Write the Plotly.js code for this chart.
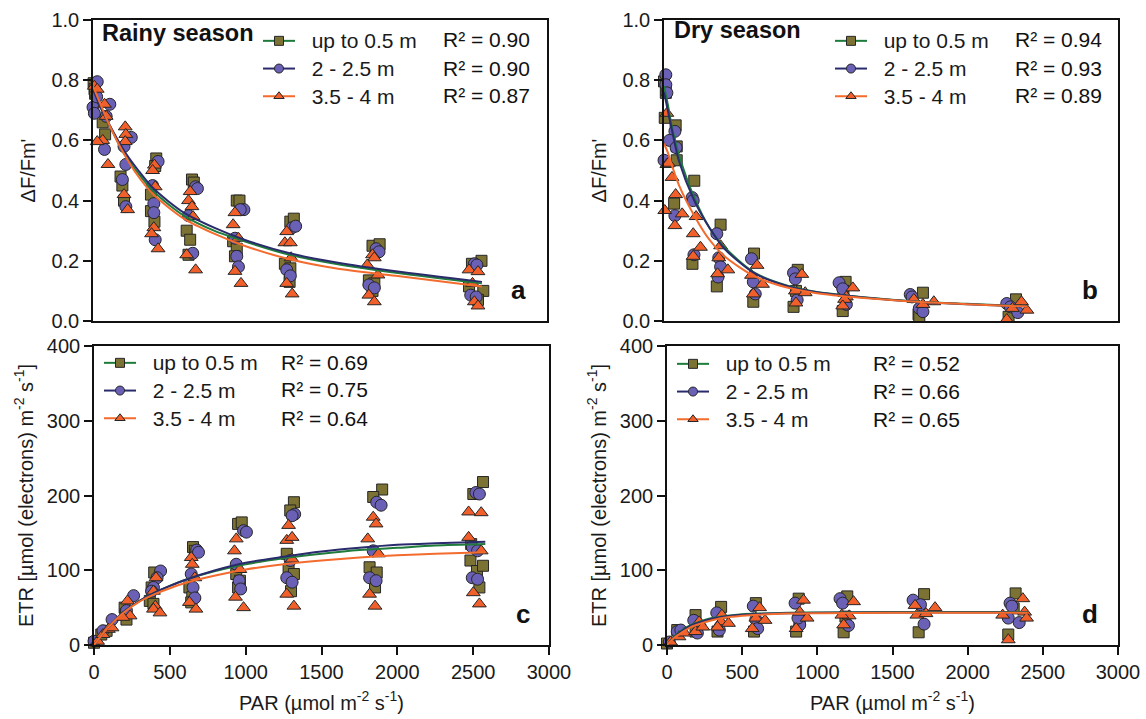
<!DOCTYPE html>
<html><head><meta charset="utf-8">
<script src="https://cdn.plot.ly/plotly-3.0.1.min.js"></script>
<style>html,body{margin:0;padding:0;background:#fff}#chart{width:1146px;height:719px}</style>
</head><body><div id="chart"></div>
<script>
// ---------- labels ----------
const seriesNames = ["up to 0.5 m", "2 - 2.5 m", "3.5 - 4 m"];
const r2A = ["R² = 0.90", "R² = 0.90", "R² = 0.87"];
const r2B = ["R² = 0.94", "R² = 0.93", "R² = 0.89"];
const r2C = ["R² = 0.69", "R² = 0.75", "R² = 0.64"];
const r2D = ["R² = 0.52", "R² = 0.66", "R² = 0.65"];
const panelLetters = ["a", "b", "c", "d"];
const seasonTitles = ["Rainy season", "Dry season"];
const yTicksYield = [0, 0.2, 0.4, 0.6, 0.8, 1.0];
const yTicksETR = [0, 100, 200, 300, 400];
const xTicksPAR = [0, 500, 1000, 1500, 2000, 2500, 3000];

// ---------- panel a : rainy season, ΔF/Fm' ----------
const aSqX = [4,10,14, 64,80, 182,194,205, 418,411,383,383,406, 654,666,619,642,631, 950,968,926,950,938, 1304,1327,1268,1304,1299, 1847,1894,1823,1859,1847, 2567,2504,2485,2579,2544];
const aSqY = [0.79,0.77,0.755, 0.66,0.62, 0.48,0.45,0.40, 0.54,0.515,0.42,0.365,0.33, 0.47,0.46,0.30,0.27,0.22, 0.40,0.40,0.265,0.24,0.215, 0.33,0.34,0.19,0.175,0.13, 0.25,0.255,0.135,0.125,0.10, 0.20,0.19,0.115,0.10,0.07];
const aCiX = [28,0,9,24, 111,87,76, 253,205,217,194,217, 430,394,402,402,411, 678,690,631,659, 997,973,938,950,961, 1316,1339,1280,1304, 1871,1890,1823,1859, 2520,2537,2496,2532];
const aCiY = [0.795,0.71,0.69,0.745, 0.72,0.68,0.57, 0.61,0.58,0.52,0.47,0.38, 0.53,0.45,0.39,0.36,0.27, 0.446,0.44,0.35,0.225, 0.37,0.37,0.275,0.215,0.18, 0.31,0.315,0.17,0.15, 0.24,0.23,0.12,0.11, 0.19,0.186,0.086,0.08];
const aTrX = [9,28, 76,87,64,28,99, 213,217,213,205,229, 406,394,411,402,387,430, 642,631,654,661,619,678, 938,926,961,938,978, 1280,1268,1304,1309,1280,1316, 1847,1859,1812,1883,1823,1859, 2485,2544,2508,2520,2544];
const aTrY = [0.78,0.77, 0.72,0.68,0.60,0.596,0.52, 0.645,0.62,0.596,0.42,0.37, 0.518,0.50,0.446,0.31,0.29,0.24, 0.43,0.40,0.38,0.347,0.22,0.17, 0.36,0.32,0.275,0.165,0.125, 0.297,0.26,0.26,0.21,0.125,0.09, 0.22,0.21,0.186,0.153,0.086,0.064, 0.17,0.164,0.125,0.064,0.05];
const aFitX = [0,50,100,200,300,400,600,800,1000,1300,1600,2000,2570];
const aFitSq = [0.78,0.71,0.66,0.56,0.49,0.43,0.35,0.30,0.265,0.22,0.19,0.16,0.125];
const aFitCi = [0.77,0.71,0.66,0.57,0.50,0.44,0.36,0.31,0.27,0.225,0.195,0.165,0.13];
const aFitTr = [0.78,0.72,0.66,0.56,0.48,0.42,0.34,0.29,0.25,0.205,0.175,0.15,0.115];

// ---------- panel b : dry season, ΔF/Fm' ----------
const bSqX = [0,12,5, 77,84,84,67, 200,188, 374,349, 595,590, 884,872,856, 1200,1186,1181, 1711,1682,1687, 2326,2277];
const bSqY = [0.796,0.758,0.675, 0.65,0.58,0.534,0.39, 0.466,0.19, 0.32,0.115, 0.224,0.064, 0.17,0.10,0.047, 0.13,0.10,0.033, 0.094,0.022,0.014, 0.072,0.014];
const bCiX = [12,12,19,0, 72,36,80,72, 186,193,198, 349,362,374,357, 578,590,603, 856,868,880, 1157,1181,1205, 1627,1639,1687,1711, 2265,2289,2338];
const bCiY = [0.818,0.785,0.758,0.534, 0.63,0.60,0.576,0.35, 0.41,0.40,0.22, 0.29,0.21,0.18,0.146, 0.207,0.13,0.09, 0.16,0.14,0.07, 0.127,0.107,0.055, 0.088,0.08,0.042,0.031, 0.058,0.047,0.028];
const bTrX = [19,19,5, 29,53,77,120,72, 212,193,241,193, 374,362,354,422, 615,578,651,590, 911,868,933,872, 1248,1205,1193,1181, 1651,1783,1711, 2362,2302,2398,2265];
const bTrY = [0.69,0.52,0.367, 0.524,0.477,0.42,0.356,0.317, 0.347,0.29,0.245,0.215, 0.25,0.21,0.157,0.17, 0.185,0.152,0.122,0.09, 0.155,0.10,0.094,0.06, 0.11,0.08,0.072,0.05, 0.072,0.064,0.055, 0.064,0.042,0.036,0.005];
const bFitX = [0,25,50,100,200,300,400,600,800,1000,1300,1700,2000,2400];
const bFitSq = [0.78,0.72,0.65,0.55,0.41,0.31,0.245,0.16,0.12,0.097,0.08,0.064,0.057,0.049];
const bFitCi = [0.76,0.70,0.64,0.53,0.40,0.31,0.24,0.158,0.118,0.096,0.079,0.063,0.056,0.048];
const bFitTr = [0.59,0.56,0.52,0.45,0.35,0.27,0.215,0.148,0.113,0.093,0.077,0.063,0.056,0.048];

// ---------- panel c : rainy season, ETR ----------
const cSqX = [0,48,83, 202,207,214, 397,380,368,392, 653,665,629,648,641, 950,974,938,962,950, 1318,1294,1271,1283,1318,1299, 1900,1841,1817,1864,1853, 2565,2501,2487,2482,2525,2565,2541];
const cSqY = [3,14,19, 50,41,34, 97,77,59,55, 131,126,77,64,57, 162,164,95,86,77, 191,180,122,101,95,72, 208,198,104,97,77, 218,202,135,113,99,106,77];
const cCiX = [0,59,119, 261,214, 439,416,392,380, 677,689,641,653,665, 986,1005,938,957,967, 1323,1306,1294,1271,1306, 1864,1893,1841,1817,1860, 2518,2541,2494,2529,2494,2529];
const cCiY = [5,19,34, 66,46, 99,90,77,72, 127,124,95,77,63, 153,151,108,86,75, 175,173,113,90,84, 191,187,126,90,86, 204,202,131,126,90,88];
const cTrX = [24,59,95,119, 221,238,190, 409,392,404,392,435, 641,648,665,629,672, 938,926,962,933,986, 1283,1271,1306,1306,1271,1318, 1841,1860,1805,1876,1817,1853, 2470,2553,2470,2553,2501,2541];
const cTrY = [5,14,21,23, 59,39,37, 90,72,52,48,43, 117,108,90,57,48, 142,126,101,64,50, 160,140,144,115,68,52, 171,162,142,122,68,52, 178,177,144,126,70,55];
const cFitX = [0,50,100,200,300,400,500,600,800,1000,1250,1500,1750,2000,2250,2580];
const cFitSq = [0,13,25,45,59,70,79,87,99,108,116,122,127,130,133,135];
const cFitCi = [0,13,25,45,59,70,79,87,100,110,118,125,130,134,136,138];
const cFitTr = [0,13,25,44,58,68,76,83,93,101,108,113,117,120,122,124];

// ---------- panel d : dry season, ETR ----------
const dSqX = [0,68, 190,190, 360,336, 591,579, 876,859,883, 1199,1175,1187, 1710,1674, 2319,2270,2306];
const dSqY = [2,20, 40,18, 51,18, 56,18, 62,18,33, 65,17,38, 68,17, 69,14,49];
const dCiX = [15,68,92, 178,202, 331,348, 574,591,603, 852,883,871, 1151,1168,1207, 1637,1686,1710, 2282,2294,2270,2343];
const dCiY = [4,18,20, 33,16, 43,20, 52,34,22, 56,27,36, 62,56,26, 60,54,28, 56,52,36,30];
const dTrX = [24,80,117, 214,190,238, 365,360,336,409, 616,591,567,652, 908,883,859,932, 1241,1212,1175,1163, 1650,1662,1723,1783, 2367,2379,2392,2270,2233];
const dTrY = [4,11,16, 31,18,24, 40,31,24,29, 50,36,22,33, 60,44,22,36, 58,39,27,40, 53,40,42,50, 62,44,36,7,40];
const dFitX = [0,50,100,150,200,300,400,500,600,800,1000,1500,2000,2400];
const dFitSq = [0,12,20,26,30,36,39,41,42,43,43.5,44,44,44];
const dFitCi = [0,11,19,25,29,35,38.5,40.5,41.5,42.5,43,43.5,43.5,43.5];
const dFitTr = [0,10,17,23,27,33,37,39,40.5,42,42.5,43,43,43];

// ---------- styles ----------
const FONT = "Arial, 'Liberation Sans', Helvetica, sans-serif";
const fills = ["#7c7233", "#6a61b6", "#f15f2a"];
const lineCols = ["#1f7b3b", "#2a2b6c", "#f36b2d"];
const symbols = ["square", "circle", "triangle-up"];
const sizes = [11, 12, 12];
const W = 1146, H = 719;
const px = v => v / W, py = v => 1 - v / H;

const panels = [
  {xa: "x",  ya: "y",  lg: "legend",  sets: [[aSqX,aSqY],[aCiX,aCiY],[aTrX,aTrY]], fitX: aFitX, fits: [aFitSq,aFitCi,aFitTr]},
  {xa: "x2", ya: "y2", lg: "legend2", sets: [[bSqX,bSqY],[bCiX,bCiY],[bTrX,bTrY]], fitX: bFitX, fits: [bFitSq,bFitCi,bFitTr]},
  {xa: "x3", ya: "y3", lg: "legend3", sets: [[cSqX,cSqY],[cCiX,cCiY],[cTrX,cTrY]], fitX: cFitX, fits: [cFitSq,cFitCi,cFitTr]},
  {xa: "x4", ya: "y4", lg: "legend4", sets: [[dSqX,dSqY],[dCiX,dCiY],[dTrX,dTrY]], fitX: dFitX, fits: [dFitSq,dFitCi,dFitTr]}
];

const traces = [];
panels.forEach(p => {
  p.sets.forEach((s, i) => {
    traces.push({type: "scatter", mode: "markers", x: s[0], y: s[1], xaxis: p.xa, yaxis: p.ya,
      showlegend: false, cliponaxis: false, hoverinfo: "x+y",
      marker: {symbol: symbols[i], size: sizes[i], color: fills[i], line: {color: "#262626", width: 1}}});
  });
  p.fits.forEach((f, i) => {
    traces.push({type: "scatter", mode: "lines", x: p.fitX, y: f, xaxis: p.xa, yaxis: p.ya,
      showlegend: false, line: {color: lineCols[i], width: 2, shape: "spline", smoothing: 0.8}});
  });
  // legend entries (no data points)
  seriesNames.forEach((n, i) => {
    traces.push({type: "scatter", mode: "lines+markers", x: [null], y: [null], xaxis: p.xa, yaxis: p.ya,
      name: '<span style="font-size:21px">&nbsp;&nbsp;' + n + '</span>', legend: p.lg, showlegend: true,
      line: {color: lineCols[i], width: 2},
      marker: {symbol: symbols[i], size: 9, color: fills[i], line: {color: "#262626", width: 1}}});
  });
});

const axBase = {showline: true, linecolor: "#111", linewidth: 1.6, mirror: true, showgrid: false, zeroline: false,
  ticks: "outside", ticklen: 8, tickwidth: 1.6, tickcolor: "#111",
  tickfont: {family: FONT, size: 20, color: "#1a1a1a"}};

const xTop = {...axBase, range: [0, 3000], tickvals: xTicksPAR, showticklabels: false, ticks: ""};
const xBot = {...axBase, range: [0, 3000], tickvals: xTicksPAR,
  title: {text: "PAR (µmol m<sup>-2</sup> s<sup>-1</sup>)", font: {family: FONT, size: 20, color: "#1a1a1a"}, standoff: 14}};
const yYield = {...axBase, range: [0, 1], tickvals: yTicksYield, tickformat: ".1f",
  title: {text: "ΔF/Fm'", font: {family: FONT, size: 20, color: "#1a1a1a"}, standoff: 10}};
const yETR = {...axBase, range: [0, 400], tickvals: yTicksETR,
  title: {text: "ETR [µmol (electrons) m<sup>-2</sup> s<sup>-1</sup>]", font: {family: FONT, size: 20, color: "#1a1a1a"}, standoff: 8}};

const dom = {
  xa: [px(93), px(547)], xb: [px(664), px(1118)], xc: [px(94), px(549)], xd: [px(667), px(1118)],
  yTop: [py(321), py(20)], yBot: [py(645), py(346)]
};

const legBase = {font: {family: FONT, size: 19, color: "#1a1a1a"}, bgcolor: "rgba(0,0,0,0)", borderwidth: 0,
  xanchor: "left", yanchor: "top", tracegroupgap: 0, itemwidth: 32, itemclick: false, itemdoubleclick: false};

const annotations = [];
const txt = (x, y, text, size, bold, xanchor) => annotations.push({xref: "paper", yref: "paper", x: px(x), y: py(y),
  text: bold ? "<b>" + text + "</b>" : text, showarrow: false, xanchor: xanchor || "left", yanchor: "middle",
  font: {family: FONT, size: size, color: "#111"}});
txt(100, 33, seasonTitles[0], 23.5, true);
txt(672, 30, seasonTitles[1], 23.5, true);
const rows = [[40, 68, 95], [40, 68, 95], [362, 390, 418], [363, 391, 419]];
const r2x = [441, 1013, 279, 871];
[r2A, r2B, r2C, r2D].forEach((r, k) => r.forEach((t, i) => txt(r2x[k], rows[k][i], t, 21, false)));
[[528, 290], [1100, 290], [532, 614], [1100, 614]].forEach((pt, i) => txt(pt[0], pt[1], panelLetters[i], 26, true, "right"));

const layout = {
  width: W, height: H, margin: {l: 0, r: 0, t: 0, b: 0}, paper_bgcolor: "#fff", plot_bgcolor: "#fff",
  font: {family: FONT, color: "#1a1a1a"},
  xaxis:  {...xTop, domain: dom.xa, anchor: "y"},
  yaxis:  {...yYield, domain: dom.yTop, anchor: "x"},
  xaxis2: {...xTop, domain: dom.xb, anchor: "y2"},
  yaxis2: {...yYield, domain: dom.yTop, anchor: "x2"},
  xaxis3: {...xBot, domain: dom.xc, anchor: "y3"},
  yaxis3: {...yETR, domain: dom.yBot, anchor: "x3"},
  xaxis4: {...xBot, domain: dom.xd, anchor: "y4"},
  yaxis4: {...yETR, domain: dom.yBot, anchor: "x4"},
  legend:  {...legBase, x: px(258), y: py(22)},
  legend2: {...legBase, x: px(830), y: py(22)},
  legend3: {...legBase, x: px(99), y: py(344)},
  legend4: {...legBase, x: px(672), y: py(345)},
  annotations: annotations,
  showlegend: true
};

Plotly.newPlot("chart", traces, layout, {displayModeBar: false});
</script>
</body></html>
